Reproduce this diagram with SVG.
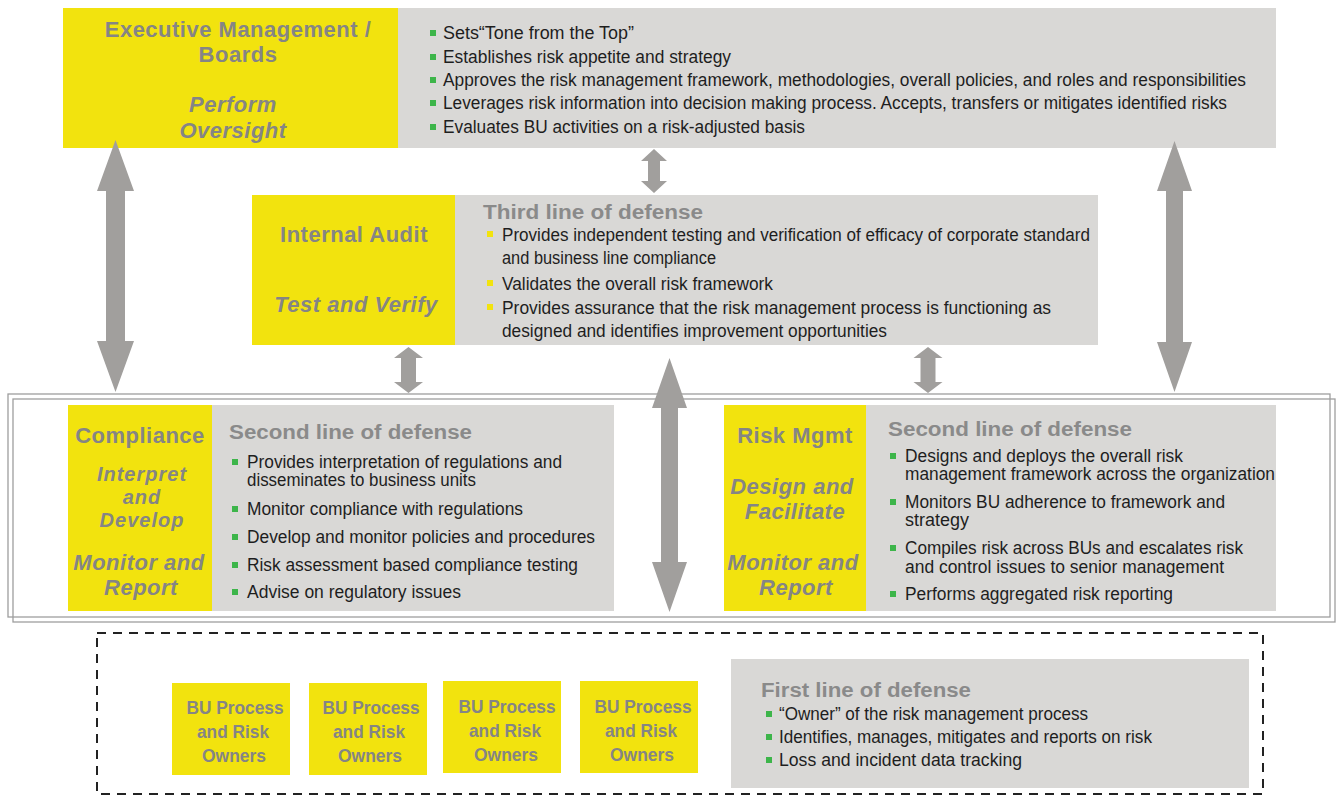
<svg xmlns="http://www.w3.org/2000/svg" width="1338" height="796" viewBox="0 0 1338 796">
  <style>
    .yel { fill: #f2e30e; }
    .gry { fill: #d9d8d6; }
    .lbl { font-family: "Liberation Sans", Arial, sans-serif; font-weight: bold; fill: #858585; text-anchor: middle; font-size: 22px; letter-spacing: 0.5px; }
    .ital { font-style: italic; }
    .tight { font-size: 20px; letter-spacing: 1px; }
    .head { font-family: "Liberation Sans", Arial, sans-serif; font-weight: bold; fill: #8a8a8a; font-size: 20px; }
    .body { font-family: "Liberation Sans", Arial, sans-serif; fill: #1e1e1e; font-size: 17.5px; }
    .bu { font-family: "Liberation Sans", Arial, sans-serif; font-weight: bold; fill: #858585; font-size: 18.5px; text-anchor: middle; }
    .arrow { fill: #a19f9d; }
    .bg { fill: #3db54a; }
    .by { fill: #f2e30e; }
    .frame { fill: none; stroke: #9e9e9e; stroke-width: 1.3; }
    .dash { fill: none; stroke: #222; stroke-width: 2; stroke-dasharray: 9 7; }
  </style>

  <rect width="1338" height="796" fill="#ffffff"/>

  <!-- frame around the second line of defense -->
  <g id="second-line-frame">
    <rect class="frame" x="8" y="394" width="1322" height="223"/>
    <rect class="frame" x="13" y="399" width="1322" height="223"/>
  </g>

  <!-- dashed frame around the first line of defense -->
  <rect id="first-line-frame" class="dash" x="97" y="633" width="1166" height="161"/>

  <!-- Executive Management / Boards -->
  <g id="executive">
    <rect class="yel" x="63" y="8" width="336" height="140"/>
    <rect class="gry" x="398" y="8" width="878" height="140"/>
    <text class="lbl" x="238" y="37" letter-spacing="0.4">Executive Management /</text>
    <text class="lbl" x="238" y="62" letter-spacing="0.4">Boards</text>
    <text class="lbl ital" x="233" y="112" letter-spacing="0.2">Perform</text>
    <text class="lbl ital" x="233" y="138" letter-spacing="0.2">Oversight</text>
    <rect class="bg" x="430" y="30" width="6" height="6"/>
    <rect class="bg" x="430" y="54" width="6" height="6"/>
    <rect class="bg" x="430" y="77" width="6" height="6"/>
    <rect class="bg" x="430" y="100" width="6" height="6"/>
    <rect class="bg" x="430" y="124" width="6" height="6"/>
    <text class="body" x="443" y="39" textLength="191" lengthAdjust="spacingAndGlyphs">Sets“Tone from the Top”</text>
    <text class="body" x="443" y="63" textLength="288" lengthAdjust="spacingAndGlyphs">Establishes risk appetite and strategy</text>
    <text class="body" x="443" y="86" textLength="803" lengthAdjust="spacingAndGlyphs">Approves the risk management framework, methodologies, overall policies, and roles and responsibilities</text>
    <text class="body" x="443" y="109" textLength="784" lengthAdjust="spacingAndGlyphs">Leverages risk information into decision making process.  Accepts, transfers or mitigates identified risks</text>
    <text class="body" x="443" y="133" textLength="362" lengthAdjust="spacingAndGlyphs">Evaluates BU activities on a risk-adjusted basis</text>
  </g>

  <!-- Internal Audit -->
  <g id="internal-audit">
    <rect class="yel" x="252" y="195" width="204" height="150"/>
    <rect class="gry" x="455" y="195" width="643" height="150"/>
    <text class="lbl" x="354" y="242">Internal Audit</text>
    <text class="lbl ital" x="356" y="312">Test and Verify</text>
    <text class="head" x="483" y="219" textLength="220" lengthAdjust="spacingAndGlyphs">Third line of defense</text>
    <rect class="by" x="487" y="231" width="6" height="6"/>
    <rect class="by" x="487" y="280" width="6" height="6"/>
    <rect class="by" x="487" y="304" width="6" height="6"/>
    <text class="body" x="502" y="241" textLength="588" lengthAdjust="spacingAndGlyphs">Provides independent testing and verification of efficacy of corporate standard</text>
    <text class="body" x="502" y="264" textLength="214" lengthAdjust="spacingAndGlyphs">and business line compliance</text>
    <text class="body" x="502" y="290" textLength="271" lengthAdjust="spacingAndGlyphs">Validates the overall risk framework</text>
    <text class="body" x="502" y="314" textLength="549" lengthAdjust="spacingAndGlyphs">Provides assurance that the  risk management process is functioning as</text>
    <text class="body" x="502" y="337" textLength="385" lengthAdjust="spacingAndGlyphs">designed and identifies improvement opportunities</text>
  </g>

  <!-- Compliance -->
  <g id="compliance">
    <rect class="yel" x="68" y="405" width="145" height="206"/>
    <rect class="gry" x="212" y="405" width="402" height="206"/>
    <text class="lbl" x="140" y="443">Compliance</text>
    <text class="lbl ital tight" x="142" y="481">Interpret</text>
    <text class="lbl ital tight" x="142" y="504">and</text>
    <text class="lbl ital tight" x="142" y="527">Develop</text>
    <text class="lbl ital" x="139" y="570">Monitor and</text>
    <text class="lbl ital" x="141" y="595">Report</text>
    <text class="head" x="229" y="439" textLength="243" lengthAdjust="spacingAndGlyphs">Second line of defense</text>
    <rect class="bg" x="232" y="459" width="6" height="6"/>
    <rect class="bg" x="232" y="506" width="6" height="6"/>
    <rect class="bg" x="232" y="534" width="6" height="6"/>
    <rect class="bg" x="232" y="562" width="6" height="6"/>
    <rect class="bg" x="232" y="589" width="6" height="6"/>
    <text class="body" x="247" y="468" textLength="315" lengthAdjust="spacingAndGlyphs">Provides interpretation of regulations and</text>
    <text class="body" x="247" y="486" textLength="229" lengthAdjust="spacingAndGlyphs">disseminates to business units</text>
    <text class="body" x="247" y="515" textLength="276" lengthAdjust="spacingAndGlyphs">Monitor compliance with regulations</text>
    <text class="body" x="247" y="543" textLength="348" lengthAdjust="spacingAndGlyphs">Develop and monitor policies and procedures</text>
    <text class="body" x="247" y="571" textLength="331" lengthAdjust="spacingAndGlyphs">Risk assessment based compliance testing</text>
    <text class="body" x="247" y="598" textLength="214" lengthAdjust="spacingAndGlyphs">Advise on regulatory issues</text>
  </g>

  <!-- Risk Management -->
  <g id="risk-mgmt">
    <rect class="yel" x="724" y="405" width="143" height="206"/>
    <rect class="gry" x="866" y="405" width="410" height="206"/>
    <text class="lbl" x="795" y="443">Risk Mgmt</text>
    <text class="lbl ital" x="792" y="494">Design and</text>
    <text class="lbl ital" x="795" y="519">Facilitate</text>
    <text class="lbl ital" x="793" y="570">Monitor and</text>
    <text class="lbl ital" x="796" y="595">Report</text>
    <text class="head" x="888" y="436" textLength="244" lengthAdjust="spacingAndGlyphs">Second line of defense</text>
    <rect class="bg" x="890" y="453" width="6" height="6"/>
    <rect class="bg" x="890" y="499" width="6" height="6"/>
    <rect class="bg" x="890" y="545" width="6" height="6"/>
    <rect class="bg" x="890" y="591" width="6" height="6"/>
    <text class="body" x="905" y="462" textLength="278" lengthAdjust="spacingAndGlyphs">Designs and deploys the overall risk</text>
    <text class="body" x="905" y="480" textLength="370" lengthAdjust="spacingAndGlyphs">management framework across the organization</text>
    <text class="body" x="905" y="508" textLength="320" lengthAdjust="spacingAndGlyphs">Monitors BU adherence to framework and</text>
    <text class="body" x="905" y="526" textLength="64" lengthAdjust="spacingAndGlyphs">strategy</text>
    <text class="body" x="905" y="554" textLength="338" lengthAdjust="spacingAndGlyphs">Compiles risk across BUs and escalates risk</text>
    <text class="body" x="905" y="573" textLength="319" lengthAdjust="spacingAndGlyphs">and control issues to senior management</text>
    <text class="body" x="905" y="600" textLength="268" lengthAdjust="spacingAndGlyphs">Performs aggregated risk reporting</text>
  </g>

  <!-- BU process and risk owners -->
  <g id="bu-1">
    <rect class="yel" x="172" y="683" width="118" height="92"/>
    <text class="bu" x="235" y="714" textLength="97" lengthAdjust="spacingAndGlyphs">BU Process</text>
    <text class="bu" x="233" y="738" textLength="72" lengthAdjust="spacingAndGlyphs">and Risk</text>
    <text class="bu" x="234" y="762" textLength="64" lengthAdjust="spacingAndGlyphs">Owners</text>
  </g>
  <g id="bu-2">
    <rect class="yel" x="309" y="683" width="118" height="92"/>
    <text class="bu" x="371" y="714" textLength="97" lengthAdjust="spacingAndGlyphs">BU Process</text>
    <text class="bu" x="369" y="738" textLength="72" lengthAdjust="spacingAndGlyphs">and Risk</text>
    <text class="bu" x="370" y="762" textLength="64" lengthAdjust="spacingAndGlyphs">Owners</text>
  </g>
  <g id="bu-3">
    <rect class="yel" x="443" y="681" width="118" height="92"/>
    <text class="bu" x="507" y="713" textLength="97" lengthAdjust="spacingAndGlyphs">BU Process</text>
    <text class="bu" x="505" y="737" textLength="72" lengthAdjust="spacingAndGlyphs">and Risk</text>
    <text class="bu" x="506" y="761" textLength="64" lengthAdjust="spacingAndGlyphs">Owners</text>
  </g>
  <g id="bu-4">
    <rect class="yel" x="580" y="681" width="118" height="92"/>
    <text class="bu" x="643" y="713" textLength="97" lengthAdjust="spacingAndGlyphs">BU Process</text>
    <text class="bu" x="641" y="737" textLength="72" lengthAdjust="spacingAndGlyphs">and Risk</text>
    <text class="bu" x="642" y="761" textLength="64" lengthAdjust="spacingAndGlyphs">Owners</text>
  </g>

  <!-- First line of defense -->
  <g id="first-line">
    <rect class="gry" x="731" y="659" width="518" height="129"/>
    <text class="head" x="761" y="697" textLength="210" lengthAdjust="spacingAndGlyphs">First line of defense</text>
    <rect class="bg" x="766" y="711" width="6" height="6"/>
    <rect class="bg" x="766" y="734" width="6" height="6"/>
    <rect class="bg" x="766" y="757" width="6" height="6"/>
    <text class="body" x="779" y="720" textLength="309" lengthAdjust="spacingAndGlyphs">“Owner” of the risk management process</text>
    <text class="body" x="779" y="743" textLength="373" lengthAdjust="spacingAndGlyphs">Identifies, manages, mitigates and reports on risk</text>
    <text class="body" x="779" y="766" textLength="243" lengthAdjust="spacingAndGlyphs">Loss  and incident data tracking</text>
  </g>

  <!-- two-headed block arrows linking the layers -->
  <g id="connectors">
    <path class="arrow" d="M115.5,140 L134,191 L125,191 L125,341 L134,341 L115.5,392 L97,341 L106,341 L106,191 L97,191 Z"/>
    <path class="arrow" d="M1174.5,141 L1192,191 L1183,191 L1183,342 L1192,342 L1174.5,392 L1157,342 L1166,342 L1166,191 L1157,191 Z"/>
    <path class="arrow" d="M669.5,358 L687,408 L678,408 L678,562 L687,562 L669.5,612 L652,562 L661,562 L661,408 L652,408 Z"/>
    <path class="arrow" d="M654,149 L667,161 L660,161 L660,181 L667,181 L654,193 L641,181 L648,181 L648,161 L641,161 Z"/>
    <path class="arrow" d="M408.5,347 L423,358 L416,358 L416,382 L423,382 L408.5,393 L394,382 L401,382 L401,358 L394,358 Z"/>
    <path class="arrow" d="M928,347 L942.5,358 L935.5,358 L935.5,382 L942.5,382 L928,393 L913.5,382 L920.5,382 L920.5,358 L913.5,358 Z"/>
  </g>
</svg>
